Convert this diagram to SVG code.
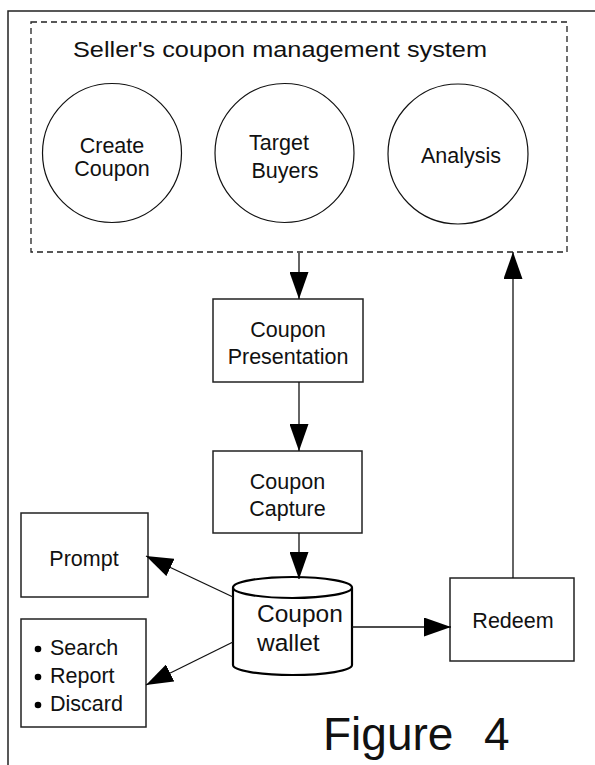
<svg xmlns="http://www.w3.org/2000/svg" width="595" height="765" viewBox="0 0 595 765">
  <style>
    text { font-family: "Liberation Sans", Arial, sans-serif; fill: #111; }
    .lbl { font-size: 21.5px; text-anchor: middle; }
    .box { fill: #fff; stroke: #222; stroke-width: 1.5; }
    .circ { fill: #fff; stroke: #111; stroke-width: 1.2; }
    .wire { fill: none; stroke: #111; stroke-width: 1.3; }
  </style>
  <defs>
    <marker id="head" viewBox="0 0 27 19" refX="27" refY="9.5" markerWidth="27" markerHeight="19" markerUnits="userSpaceOnUse" orient="auto">
      <path d="M0,0 L27,9.5 L0,19 Z" fill="#000"/>
    </marker>
  </defs>

  <rect width="595" height="765" fill="#fff"/>

  <!-- page frame (runs off the right and bottom edges) -->
  <path d="M8,775 V11 H605" fill="none" stroke="#222" stroke-width="1.5"/>

  <!-- seller's system boundary -->
  <g id="seller-system">
    <rect x="31" y="22" width="536" height="230" fill="none" stroke="#222" stroke-width="1.3" stroke-dasharray="6 4"/>
    <text x="73" y="57" font-size="22" textLength="414" lengthAdjust="spacingAndGlyphs">Seller's coupon management system</text>
  </g>

  <g id="create-coupon">
    <circle class="circ" cx="112" cy="153" r="69.5"/>
    <text class="lbl" x="112" y="153">Create</text>
    <text class="lbl" x="112" y="176">Coupon</text>
  </g>

  <g id="target-buyers">
    <circle class="circ" cx="284.5" cy="153" r="69.5"/>
    <text class="lbl" x="279" y="149.5">Target</text>
    <text class="lbl" x="285" y="177.5">Buyers</text>
  </g>

  <g id="analysis">
    <circle class="circ" cx="458" cy="154" r="70"/>
    <text class="lbl" x="461" y="163">Analysis</text>
  </g>

  <g id="coupon-presentation">
    <rect class="box" x="213" y="299" width="150" height="83"/>
    <text class="lbl" x="288" y="337">Coupon</text>
    <text class="lbl" x="288" y="364">Presentation</text>
  </g>

  <g id="coupon-capture">
    <rect class="box" x="213" y="451" width="149" height="82"/>
    <text class="lbl" x="287.5" y="489">Coupon</text>
    <text class="lbl" x="287.5" y="516">Capture</text>
  </g>

  <g id="prompt">
    <rect class="box" x="21" y="513" width="127" height="84"/>
    <text class="lbl" x="84" y="566">Prompt</text>
  </g>

  <g id="wallet-actions">
    <rect class="box" x="21" y="619" width="125" height="108"/>
    <circle cx="38" cy="649" r="3.3" fill="#000"/>
    <circle cx="38" cy="677" r="3.3" fill="#000"/>
    <circle cx="38" cy="705" r="3.3" fill="#000"/>
    <text x="50" y="655" font-size="21.5">Search</text>
    <text x="50" y="683" font-size="21.5">Report</text>
    <text x="50" y="711" font-size="21.5">Discard</text>
  </g>

  <g id="coupon-wallet">
    <path d="M233,587.5 V665 A59.5,10 0 0 0 352,665 V587.5 A59.5,10.5 0 0 0 233,587.5 A59.5,10.5 0 0 0 352,587.5" fill="#fff" stroke="#000" stroke-width="2.2"/>
    <text x="257" y="622" font-size="24.5">Coupon</text>
    <text x="257" y="651" font-size="24.5">wallet</text>
  </g>

  <g id="redeem">
    <rect class="box" x="450" y="578" width="124" height="83"/>
    <text class="lbl" x="513" y="628">Redeem</text>
  </g>

  <g id="connectors">
    <line class="wire" x1="299" y1="253" x2="299" y2="299" marker-end="url(#head)"/>
    <line class="wire" x1="299" y1="382" x2="299" y2="451" marker-end="url(#head)"/>
    <line class="wire" x1="299" y1="533" x2="299" y2="579" marker-end="url(#head)"/>
    <line class="wire" x1="233" y1="597" x2="146" y2="556" marker-end="url(#head)"/>
    <line class="wire" x1="233" y1="642" x2="146" y2="685" marker-end="url(#head)"/>
    <line class="wire" x1="352" y1="627" x2="451" y2="627" marker-end="url(#head)"/>
    <line class="wire" x1="513" y1="578" x2="513" y2="252" marker-end="url(#head)"/>
  </g>

  <text x="323" y="750" font-size="46">Figure<tspan x="484">4</tspan></text>
</svg>
